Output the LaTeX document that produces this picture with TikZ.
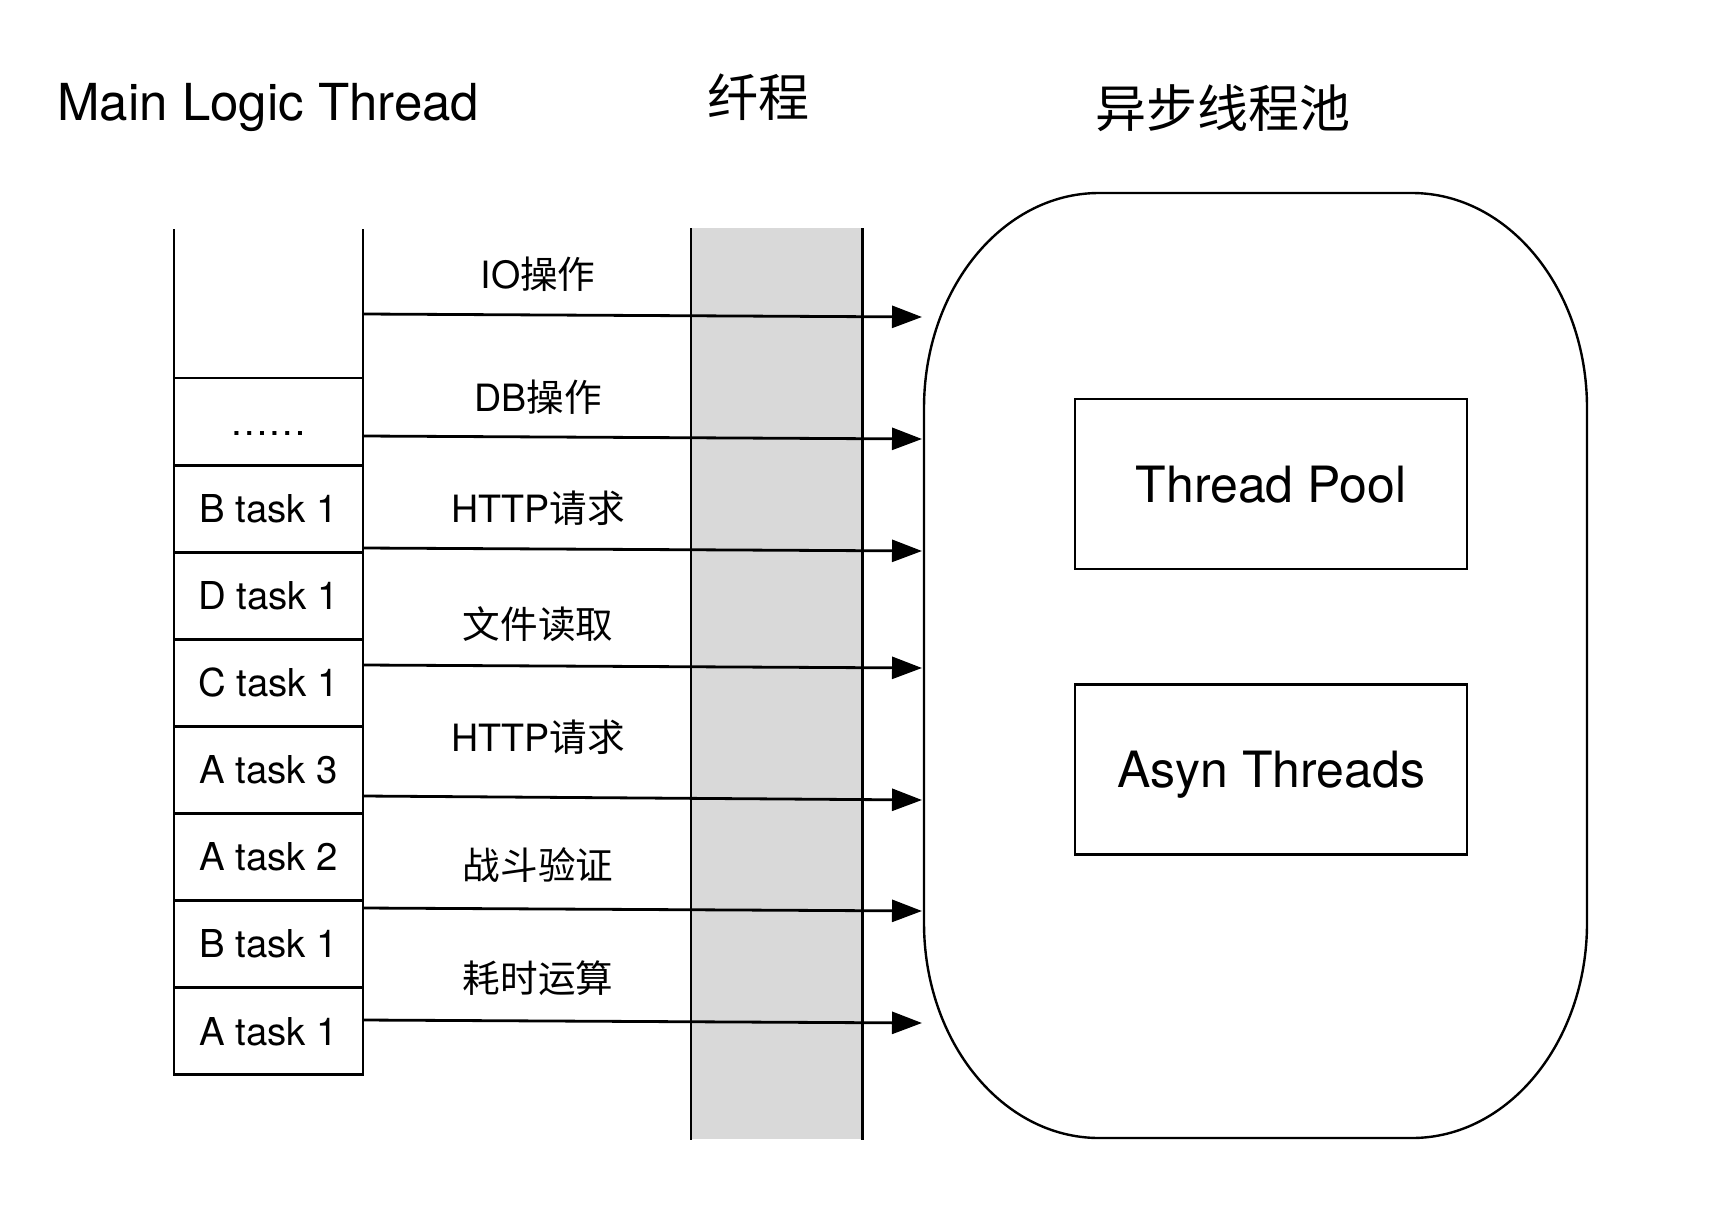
\documentclass[tikz,border=0pt]{standalone}
\usepackage{fontspec}
\setmainfont{TeX Gyre Heros}
\newfontfamily\cjk{Noto Sans CJK SC}
\usepackage{xcolor}
\definecolor{fibergray}{HTML}{D9D9D9}
\usetikzlibrary{positioning,arrows.meta}

\begin{document}
\begin{tikzpicture}[x=0.5pt, y=-0.5pt]
        \tikzstyle{title} = [inner sep=0pt, font=\fontsize{25.5pt}{30pt}\selectfont]
        \tikzstyle{task} = [rectangle, draw, line width=1.4pt, outer sep=0pt, minimum width=94.5pt, minimum height=43.55pt, inner sep=0pt, text height=13.8pt, text depth=0pt, font=\fontsize{19.2pt}{23pt}\selectfont]
        \tikzstyle{call} = [inner sep=0pt, font=\fontsize{18.8pt}{22pt}\selectfont]
        \tikzstyle{worker} = [rectangle, draw, line width=1.4pt, minimum width=196pt, minimum height=85pt, text height=18pt, text depth=0pt, font=\fontsize{25pt}{30pt}\selectfont]
        \tikzstyle{line} = [draw, line width=1.4pt, -{Triangle[length=15pt, width=11pt]}]

        \useasboundingbox (0,0) rectangle (1729,1215);

        % titles
        \node [title, anchor=base west] (main_title) at (57,120) {Main Logic Thread};
        \node [title] (fiber_title) at (758,97) {\cjk 纤程};
        \node [title] (pool_title) at (1223,108) {\cjk 异步线程池};

        % fiber band
        \node [rectangle, fill=fibergray, anchor=north west, inner sep=0pt, minimum width=85.5pt, minimum height=455.5pt] (fiber) at (691,228) {};
        \draw [line width=1.4pt] (fiber.north west) -- (fiber.south west);
        \draw [line width=1.4pt] (fiber.north east) -- (fiber.south east);

        % task stack of the main logic thread
        \node [task, anchor=north west] (dots) at (174,378) {……};
        \node [task, below=0pt of dots] (b_task_top) {B task 1};
        \node [task, below=0pt of b_task_top] (d_task) {D task 1};
        \node [task, below=0pt of d_task] (c_task) {C task 1};
        \node [task, below=0pt of c_task] (a_task_3) {A task 3};
        \node [task, below=0pt of a_task_3] (a_task_2) {A task 2};
        \node [task, below=0pt of a_task_2] (b_task_low) {B task 1};
        \node [task, below=0pt of b_task_low] (a_task_1) {A task 1};
        \draw [line width=1.4pt] (dots.north west) -- ++(0,-149);
        \draw [line width=1.4pt] (dots.north east) -- ++(0,-149);

        % asynchronous thread pool
        \draw [line width=1.2pt] (1099,193) -- (1412,193)
            arc [start angle=90, end angle=0, x radius=87.5pt, y radius=107.5pt] -- (1587,923)
            arc [start angle=0, end angle=-90, x radius=87.5pt, y radius=107.5pt] -- (1099,1138)
            arc [start angle=270, end angle=180, x radius=87.5pt, y radius=107.5pt] -- (924,408)
            arc [start angle=180, end angle=90, x radius=87.5pt, y radius=107.5pt] -- cycle;
        \node [worker] (thread_pool) at (1271,484) {Thread Pool};
        \node [worker, below=56.5pt of thread_pool] (asyn_threads) {Asyn Threads};

        % calls handed over to the pool
        \coordinate (io_from) at (363,314);        \coordinate (io_to) at (922,317);
        \coordinate (db_from) at (363,436);        \coordinate (db_to) at (922,439);
        \coordinate (http_a_from) at (363,548);    \coordinate (http_a_to) at (922,551);
        \coordinate (file_from) at (363,665);      \coordinate (file_to) at (922,668);
        \coordinate (http_b_from) at (363,796);    \coordinate (http_b_to) at (922,800);
        \coordinate (battle_from) at (363,908);    \coordinate (battle_to) at (922,911);
        \coordinate (calc_from) at (363,1020);     \coordinate (calc_to) at (922,1023);

        \path [line] (io_from) -- (io_to);
        \path [line] (db_from) -- (db_to);
        \path [line] (http_a_from) -- (http_a_to);
        \path [line] (file_from) -- (file_to);
        \path [line] (http_b_from) -- (http_b_to);
        \path [line] (battle_from) -- (battle_to);
        \path [line] (calc_from) -- (calc_to);

        \node [call] (io_label) at (538,274) {IO\cjk 操作};
        \node [call] (db_label) at (538,397) {DB\cjk 操作};
        \node [call] (http_a_label) at (538,508) {HTTP\cjk 请求};
        \node [call] (file_label) at (538,624) {\cjk 文件读取};
        \node [call] (http_b_label) at (538,737) {HTTP\cjk 请求};
        \node [call] (battle_label) at (538,865) {\cjk 战斗验证};
        \node [call] (calc_label) at (538,978) {\cjk 耗时运算};

    \end{tikzpicture}
\end{document}
